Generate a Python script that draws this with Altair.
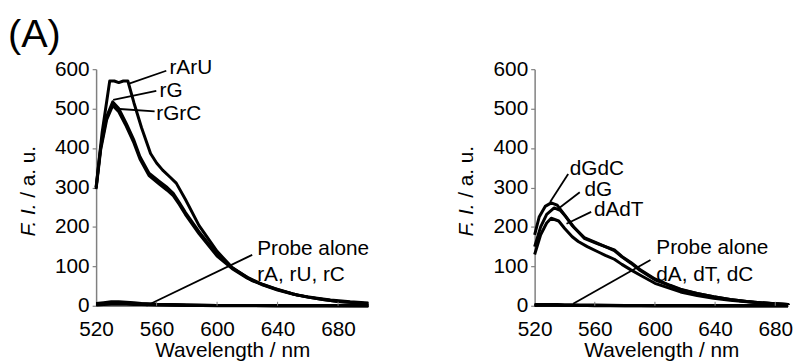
import altair as alt
import pandas as pd

FONT = "Liberation Sans"
FS = 21

# ---------------- Left panel (RNA) ----------------
wl_rArU = [520, 524, 529, 532, 535, 538, 541, 545, 550, 556, 560, 564, 569, 573, 579, 588, 600, 610, 623, 638, 653, 665, 675, 688, 700]
fi_rArU = [300, 440, 570, 570, 566, 570, 570, 515, 452, 386, 362, 344, 326, 311, 270, 204, 138, 97, 64, 44, 27, 20, 15, 10, 7]

wl_rG = [520, 523, 527, 531, 535, 540, 545, 549, 555, 562, 567, 571, 575, 579, 588, 600, 610, 620, 630, 640, 650, 660, 670, 680, 690, 700]
fi_rG = [300, 400, 480, 517, 500, 462, 420, 378, 336, 315, 300, 285, 262, 237, 188, 130, 96, 72, 54, 41, 30, 22, 16, 11, 8, 5]

wl_rGrC = [520, 523, 527, 531, 535, 540, 545, 549, 555, 562, 567, 571, 575, 579, 588, 600, 610, 620, 630, 640, 650, 660, 670, 680, 690, 700]
fi_rGrC = [296, 395, 472, 508, 492, 455, 413, 372, 330, 308, 293, 279, 257, 232, 183, 126, 94, 70, 53, 40, 30, 22, 16, 11, 8, 5]

wl_base = [520, 525, 530, 535, 540, 545, 550, 560, 580, 600, 640, 700]
fi_probe_r = [6, 8, 10, 10, 9, 8, 6, 4, 2, 1, 1, 0]
fi_rA = [4, 6, 8, 8, 7, 6, 5, 3, 2, 1, 0, 0]
fi_rU = [3, 5, 6, 6, 6, 5, 4, 3, 1, 1, 0, 0]
fi_rC = [2, 3, 4, 4, 4, 3, 3, 2, 1, 0, 0, 0]

lab_r = ["rArU", "rG", "rGrC", "Probe alone", "rA, rU, rC"]
lab_r_x = [568.5, 562, 559.8, 626.5, 626.5]
lab_r_y = [589, 530, 472, 129, 62]
lead_r_x1 = [542.3, 531.3, 535.7, 553.3]
lead_r_y1 = [564, 522, 499, 0]
lead_r_x2 = [566.4, 559.8, 558.7, 623.2]
lead_r_y2 = [596, 545, 493, 129]

# ---------------- Right panel (DNA) ----------------
wl_dGdC = [520, 523, 527, 531, 535, 540, 545, 553, 562, 567, 573, 578, 584, 590, 600, 610, 617, 628, 639, 650, 661, 670, 680, 690, 700]
fi_dGdC = [180, 225, 252, 261, 255, 230, 203, 173, 158, 150, 142, 125, 110, 92, 68, 52, 42, 31, 23, 16, 11, 8, 5, 3, 2]

wl_dG = [520, 524, 528, 533, 537, 541, 546, 553, 562, 567, 573, 578, 584, 590, 600, 610, 617, 628, 639, 650, 661, 670, 680, 690, 700]
fi_dG = [150, 200, 232, 248, 242, 225, 200, 171, 157, 150, 140, 124, 108, 90, 66, 51, 41, 31, 23, 16, 11, 8, 5, 3, 2]

wl_dAdT = [520, 524, 528, 531, 536, 540, 545, 549, 555, 562, 567, 573, 578, 584, 590, 600, 610, 617, 628, 639, 650, 661, 670, 680, 690, 700]
fi_dAdT = [130, 180, 210, 222, 215, 196, 175, 163, 150, 137, 128, 118, 105, 91, 78, 57, 44, 35, 26, 19, 14, 10, 7, 5, 3, 2]

fi_probe_d = [3, 3, 3, 3, 2, 2, 2, 2, 1, 1, 0, 0]
fi_dA = [2, 2, 2, 2, 2, 2, 1, 1, 1, 0, 0, 0]
fi_dT = [1, 2, 2, 2, 1, 1, 1, 1, 0, 0, 0, 0]
fi_dC = [1, 1, 1, 1, 1, 1, 1, 0, 0, 0, 0, 0]

lab_d = ["dGdC", "dG", "dAdT", "Probe alone", "dA, dT, dC"]
lab_d_x = [543.4, 553.2, 559.4, 600.9, 600.9]
lab_d_y = [331, 278, 228, 131, 62]
lead_d_x1 = [530.3, 535.7, 541.2, 545.6]
lead_d_y1 = [263, 246, 208, 5]
lead_d_x2 = [542.3, 550, 557.6, 597]
lead_d_y2 = [334, 288, 238, 116]

x_ticks = [520, 560, 600, 640, 680]
y_ticks = [0, 100, 200, 300, 400, 500, 600]
inner_ticks = [560, 600, 640, 680]

H = 239
W_LEFT, X_END_LEFT = 275, 700
# the right panel runs off the picture's right edge in the reference
W_RIGHT, X_END_RIGHT = 256, 688.5


def long_df(series):
    rows = []
    for name, (wl, fi) in series.items():
        for a, b in zip(wl, fi):
            rows.append({"wl": a, "fi": b, "s": name})
    return pd.DataFrame(rows)


X_AXIS = alt.Axis(values=x_ticks, title="Wavelength / nm", tickSize=0, labelPadding=13,
                  labelFlush=False, labelOverlap=False, titlePadding=0, titleFontSize=FS,
                  titleFont=FONT, titleFontWeight="normal", titleColor="black")
Y_AXIS = alt.Axis(values=y_ticks, title=None, tickSize=4, labelPadding=3,
                  labelFlush=False, labelOverlap=False)


def panel(series, labs, lx, ly, x1, y1, x2, y2, with_tag, width, x_end):
    xs = alt.Scale(domain=[520, x_end], nice=False, zero=False, clamp=True)
    ys = alt.Scale(domain=[0, 600], nice=False)
    df = long_df(series)
    lines = alt.Chart(df).mark_line(color="black", strokeWidth=3, strokeJoin="round").encode(
        x=alt.X("wl:Q", scale=xs, axis=X_AXIS),
        y=alt.Y("fi:Q", scale=ys, axis=Y_AXIS),
        detail="s:N",
        order="wl:Q",
    )
    ldf = pd.DataFrame({"x1": x1, "y1": y1, "x2": x2, "y2": y2})
    leaders = alt.Chart(ldf).mark_rule(color="black", strokeWidth=1.8).encode(
        x=alt.X("x1:Q", scale=xs, axis=X_AXIS), y=alt.Y("y1:Q", scale=ys, axis=Y_AXIS),
        x2="x2:Q", y2="y2:Q")
    tdf = pd.DataFrame({"t": labs, "x": lx, "y": ly})
    texts = alt.Chart(tdf).mark_text(align="left", baseline="alphabetic", font=FONT,
                                      fontSize=FS, color="black").encode(
        x=alt.X("x:Q", scale=xs, axis=X_AXIS), y=alt.Y("y:Q", scale=ys, axis=Y_AXIS),
        text="t:N")
    tdf2 = pd.DataFrame({"x": inner_ticks})
    ticks = alt.Chart(tdf2).mark_rule(color="#808080", strokeWidth=1).encode(
        x=alt.X("x:Q", scale=xs, axis=X_AXIS), y=alt.value(H), y2=alt.value(H - 4))
    yt1 = alt.Chart(pd.DataFrame({"t": ["F. I."]})).mark_text(
        align="left", baseline="alphabetic", angle=270, font=FONT, fontSize=FS,
        fontStyle="italic", color="black").encode(
        x=alt.value(-62), y=alt.value(169), text="t:N")
    yt2 = alt.Chart(pd.DataFrame({"t": ["/ a. u."]})).mark_text(
        align="left", baseline="alphabetic", angle=270, font=FONT, fontSize=FS,
        color="black").encode(
        x=alt.value(-62), y=alt.value(130), text="t:N")
    layers = [lines, leaders, texts, ticks, yt1, yt2]
    if with_tag:
        tag = alt.Chart(pd.DataFrame({"t": ["(A)"]})).mark_text(
            align="left", baseline="alphabetic", font=FONT, fontSize=40,
            color="black").encode(x=alt.value(-89), y=alt.value(-22), text="t:N")
        layers.append(tag)
    return alt.layer(*layers).properties(width=width, height=H)


left = panel({"rArU": (wl_rArU, fi_rArU), "rG": (wl_rG, fi_rG), "rGrC": (wl_rGrC, fi_rGrC),
              "Probe": (wl_base, fi_probe_r), "rA": (wl_base, fi_rA), "rU": (wl_base, fi_rU),
              "rC": (wl_base, fi_rC)},
             lab_r, lab_r_x, lab_r_y, lead_r_x1, lead_r_y1, lead_r_x2, lead_r_y2, True,
             W_LEFT, X_END_LEFT)
right = panel({"dGdC": (wl_dGdC, fi_dGdC), "dG": (wl_dG, fi_dG), "dAdT": (wl_dAdT, fi_dAdT),
               "Probe": (wl_base, fi_probe_d), "dA": (wl_base, fi_dA), "dT": (wl_base, fi_dT),
               "dC": (wl_base, fi_dC)},
              lab_d, lab_d_x, lab_d_y, lead_d_x1, lead_d_y1, lead_d_x2, lead_d_y2, False,
              W_RIGHT, X_END_RIGHT)

chart = alt.hconcat(left, right, spacing=87).properties(
    padding={"left": 0, "top": 6, "right": 0, "bottom": 0}
).configure_view(stroke=None).configure_axis(
    grid=False, domainColor="#808080", domainWidth=1.5, tickColor="#808080", tickWidth=1.2,
    labelFont=FONT, labelFontSize=FS, labelColor="black", titleFont=FONT
)

chart.save("out.html", embed_options={"renderer": "svg", "actions": False})
